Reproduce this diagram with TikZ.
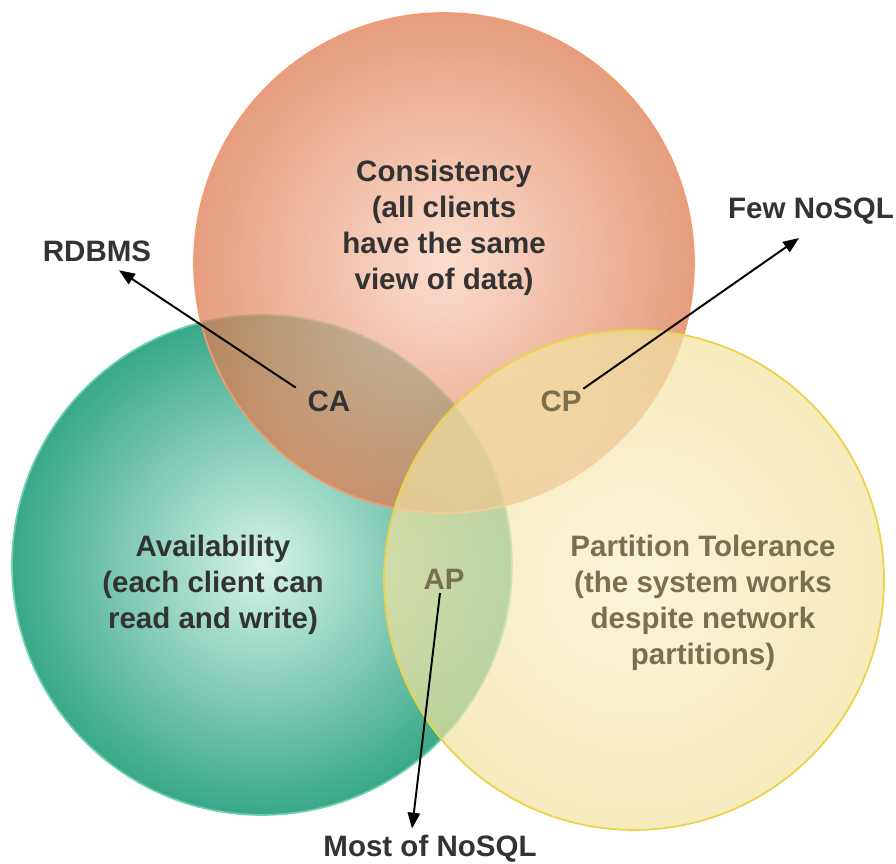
\documentclass[tikz,border=0pt]{standalone}
\usepackage{fontspec}
\setmainfont{Liberation Sans}
\usepackage{tikz}
\usetikzlibrary{positioning, arrows.meta}

\definecolor{txtdark}{HTML}{333333}
\definecolor{txtolive}{HTML}{78704E}
\definecolor{consin}{HTML}{FBD2BD}
\definecolor{consout}{HTML}{DC7C52}
\definecolor{consline}{HTML}{F39A70}
\definecolor{availin}{HTML}{D6F3EA}
\definecolor{availout}{HTML}{38A888}
\definecolor{availline}{HTML}{6FD0B0}
\definecolor{partin}{HTML}{F9F0C8}
\definecolor{partout}{HTML}{F2E2A0}
\definecolor{partline}{HTML}{ECD24A}

\begin{document}
\begin{tikzpicture}[x=0.02cm, y=-0.02cm,
    txt/.style={font=\bfseries\fontsize{16.8}{20.5}\selectfont, text=txtdark, align=center, inner sep=2pt},
    oltxt/.style={txt, text=txtolive},
    pointer/.style={-{Triangle[length=9pt,width=7pt]}, line width=1.1pt, black}]
    \useasboundingbox (0,0) rectangle (896,864);

    % Draw the three sets
    \shade[inner color=availin, outer color=availout] (262,565) circle (5cm);
    \draw[availline, line width=1pt] (262,565) circle (5cm);
    \shade[inner color=consin, outer color=consout, fill opacity=0.74] (444,263) circle (5cm);
    \draw[consline, line width=1pt] (444,263) circle (5cm);
    \shade[inner color=partin, outer color=partout, fill opacity=0.7] (634,580) circle (5cm);
    \draw[partline, line width=1pt] (634,580) circle (5cm);

    % Set names
    \node[txt] (cons) at (444,228) {Consistency\\(all clients\\have the same\\view of data)};
    \node[txt] (avail) at (213,585) {Availability\\(each client can\\read and write)};
    \node[oltxt] (part) at (703,603) {Partition Tolerance\\(the system works\\despite network\\partitions)};

    % Intersections
    \node[txt] (ca) at (329,401) {CA};
    \foreach \n/\x/\y in {cp/561/401, ap/444/579}
      \node[oltxt] (\n) at (\x,\y) {\MakeUppercase{\n}};

    % Systems
    \node[txt] (rdbms) at (97,251) {RDBMS};
    \node[txt] (few) at (811,211) {Few NoSQL};
    \node[txt] (most) at (430,849) {Most of NoSQL};

    % Draw pointers
    \draw[pointer] ([shift={(-8,1)}]ca.north west) -- ([shift={(22,5)}]rdbms.south);
    \draw[pointer] ([shift={(-2,2)}]cp.north east) -- ([shift={(-12,10)}]few.south);
    \draw[pointer] ([shift={(-4,0)}]ap.south) -- ([shift={(-18,-3)}]most.north);
\end{tikzpicture}
\end{document}
